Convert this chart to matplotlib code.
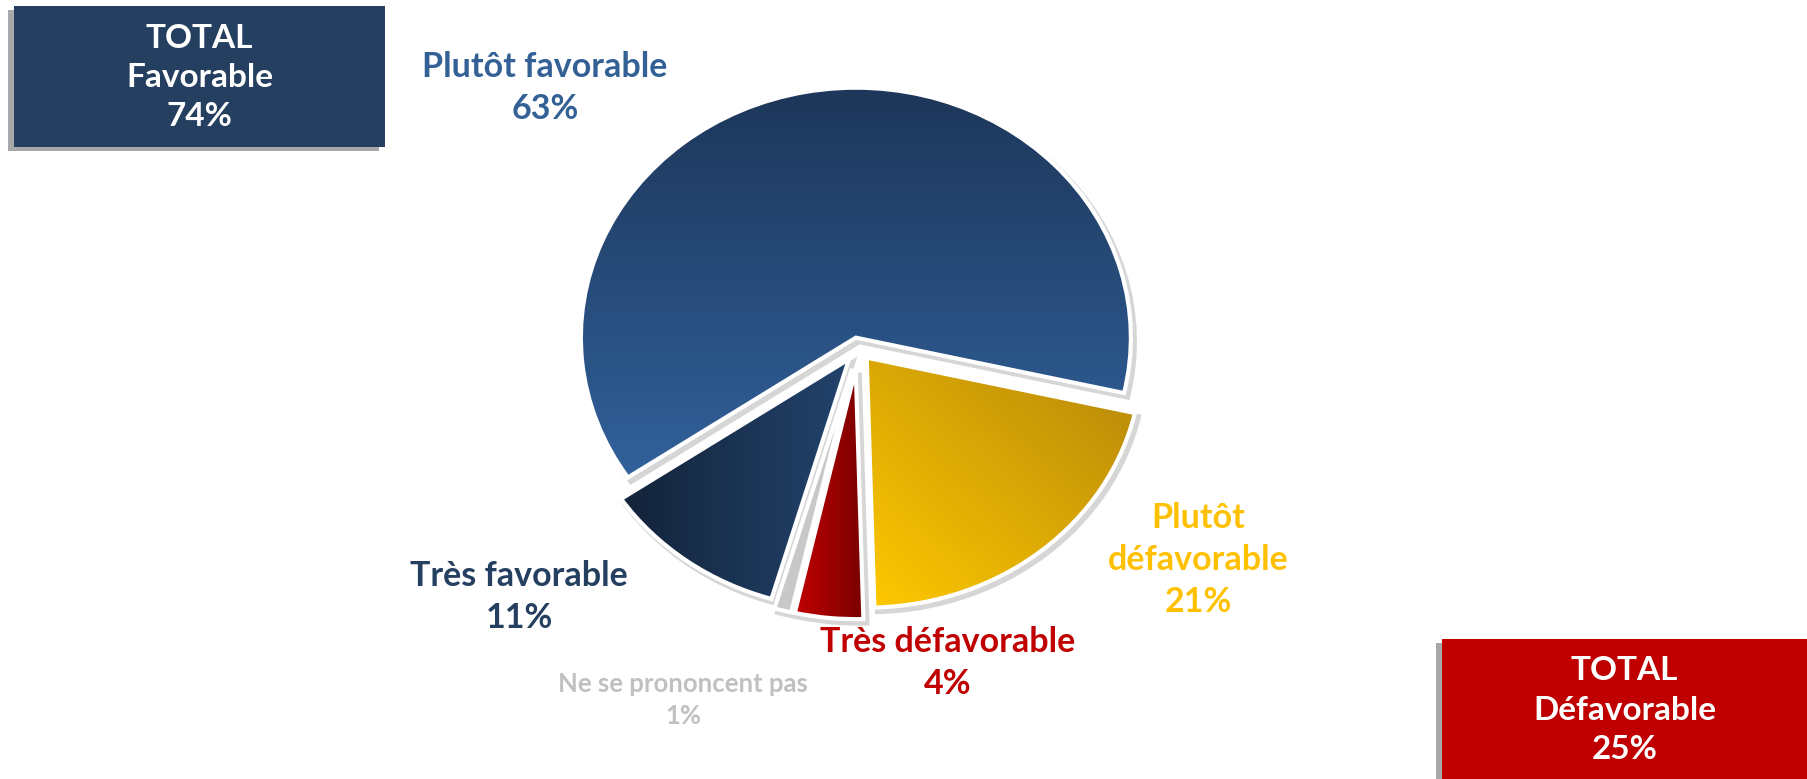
import matplotlib
matplotlib.use('Agg')
import matplotlib.pyplot as plt
import matplotlib.patches as mpatches
import numpy as np
from matplotlib.colors import to_rgb

# ---- data ----
categories = ["Plutôt favorable", "Plutôt défavorable", "Très défavorable",
              "Ne se prononcent pas", "Très favorable"]
values = [63, 21, 4, 1, 11]
pct_labels = ["63%", "21%", "4%", "1%", "11%"]
display_names = ["Plutôt favorable", "Plutôt\ndéfavorable", "Très défavorable",
                 "Ne se prononcent pas", "Très favorable"]
total_titles = ["TOTAL\nFavorable", "TOTAL\nDéfavorable"]
total_values = ["74%", "25%"]

# ---- styles ----
W, H = 1807, 779
FONT = ['Lato', 'DejaVu Sans']
label_colors = ['#336196', '#ffc000', '#c00000', '#c0c0c0', '#243f60']
grad_colors = [('#1d3659', '#31619b', 'v'),
               ('#ffc900', '#b5870a', 'd'),
               ('#c00000', '#7a0000', 'h'),
               ('#c8c8c8', '#c8c8c8', 'h'),
               ('#132339', '#22436c', 'h')]
explode = [0.042, 0.05, 0.085, 0.085, 0.055]
label_pos = [(545, 88), (1198, 560), (948, 663), (683, 700), (519, 597)]
label_sizes = [24.5, 24.5, 24.5, 18.5, 24.5]

fig = plt.figure(figsize=(W / 100, H / 100), dpi=100)
ax = fig.add_axes([0, 0, 1, 1])
cx_px, cy_px = 858, 348
rx, ry = 275, 250

wedges, _ = ax.pie(values, startangle=214, counterclock=False, explode=explode,
                   colors=[g[0] for g in grad_colors],
                   wedgeprops=dict(linewidth=0))
ax.set_aspect('auto')
xlim = (-cx_px / rx, (W - cx_px) / rx)
ylim = (-(H - cy_px) / ry, cy_px / ry)


def gradient_img(c1, c2, mode, n=200):
    yy, xx = np.mgrid[0:1:n * 1j, 0:1:n * 1j]  # origin lower: yy 0 bottom -> 1 top
    if mode == 'v':
        t = 1 - yy
    elif mode == 'h':
        t = xx
    else:
        t = (xx + yy) / 2
    a = np.array(to_rgb(c1))
    b = np.array(to_rgb(c2))
    return a[None, None, :] * (1 - t[..., None]) + b[None, None, :] * t[..., None]


for w, (c1, c2, mode) in zip(wedges, grad_colors):
    cx, cy = w.center
    r = w.r
    sh = mpatches.Wedge((cx + 0.012, cy - 0.015), r, w.theta1, w.theta2,
                        facecolor='#d6d6d6', edgecolor='#d6d6d6', linewidth=4, zorder=0.5)
    ax.add_patch(sh)
    w.set_zorder(1)
    bb = w.get_path().get_extents()
    img = gradient_img(c1, c2, mode)
    im = ax.imshow(img, extent=(bb.x0, bb.x1, bb.y0, bb.y1), origin='lower',
                   aspect='auto', interpolation='bilinear', zorder=1.5)
    im.set_clip_path(w)
    outline = mpatches.Wedge((cx, cy), r, w.theta1, w.theta2, facecolor='none',
                             edgecolor='white', linewidth=3, zorder=2)
    ax.add_patch(outline)

ax.set_xlim(*xlim)
ax.set_ylim(*ylim)
ax.axis('off')

# ---- labels ----
for name, pct, col, (px, py), fs in zip(display_names, pct_labels, label_colors,
                                        label_pos, label_sizes):
    fig.text(px / W, 1 - py / H, name + "\n" + pct, ha='center', va='center',
             color=col, fontsize=fs, fontweight='bold', family=FONT,
             linespacing=1.38, multialignment='center')

# ---- total boxes ----
boxes = [(14, 6, 385, 147, '#243f60'), (1442, 639, 1807, 779, '#c00000')]
for (x0, y0, x1, y1, col), title, val in zip(boxes, total_titles, total_values):
    shadow = mpatches.Rectangle(((x0 - 6) / W, 1 - (y1 + 4) / H), (x1 - x0) / W,
                                (y1 - y0) / H, transform=fig.transFigure,
                                facecolor='#a8a8a8', edgecolor='none', zorder=3)
    fig.patches.append(shadow)
    rect = mpatches.Rectangle((x0 / W, 1 - y1 / H), (x1 - x0) / W, (y1 - y0) / H,
                              transform=fig.transFigure, facecolor=col,
                              edgecolor='none', zorder=4)
    fig.patches.append(rect)
    fig.text((x0 + x1) / 2 / W, 1 - ((y0 + y1) / 2 + 1) / H, title + "\n" + val,
             ha='center', va='center', color='white', fontsize=24,
             fontweight='bold', family=FONT, linespacing=1.42, zorder=5)

fig.savefig('out.png', dpi=100, facecolor='white')
